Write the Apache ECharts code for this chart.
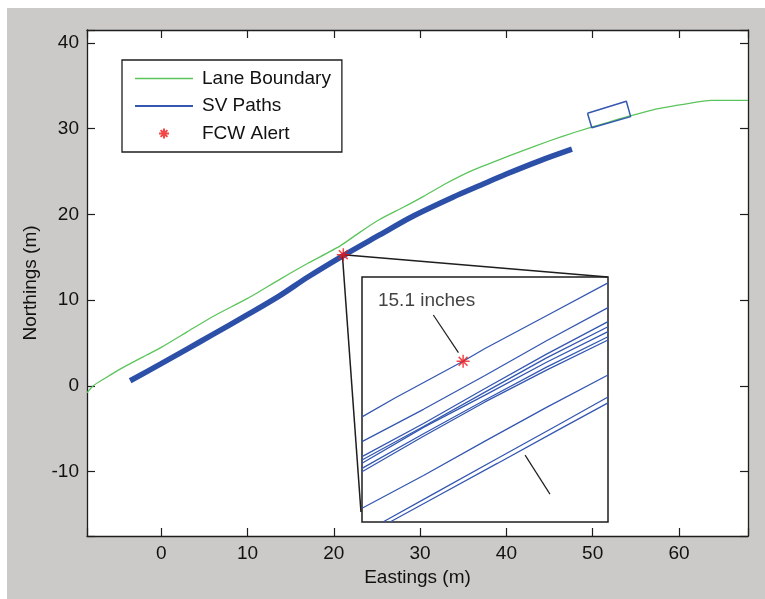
<!DOCTYPE html>
<html>
<head>
<meta charset="utf-8">
<title>FCW alert</title>
<script src="https://cdn.jsdelivr.net/npm/echarts@6.0.0/dist/echarts.min.js"></script>
<style>
html, body { margin: 0; padding: 0; background: #fff; }
#main { position: absolute; left: 7px; top: 8px; width: 758px; height: 591px; }
</style>
</head>
<body>
<div id="main"></div>
<script>
// main axes data (metres)
var laneBoundary = [[-8.6,-0.8],[-7.9,0],[-6.5,0.9],[-4.5,2.1],[-1.7,3.6],[0,4.5],[3,6.3],[6,8.1],[10,10.2],
    [13.7,12.4],[17,14.3],[20.7,16.3],[23,17.9],[25.3,19.4],[28,20.8],[30.4,22.1],[33,23.6],[36,25.1],
    [40,26.7],[43.4,28.0],[46.5,29.1],[49.6,30.1],[52,30.8],[54,31.4],[57,32.2],[59.7,32.7],[62,33.1],
    [63.7,33.3],[68,33.3]];
var svPaths = [[-3.6,0.6],[0,2.6],[3,4.3],[6,6.0],[10,8.3],[13.7,10.5],[17,12.7],[21.1,15.2],[25.3,17.6],
    [29,19.7],[33.8,22.0],[37,23.4],[40,24.7],[44,26.3],[47.6,27.6]];
var vehicleBox = [[49.4,31.8],[53.9,33.2],[54.4,31.4],[49.9,30.1],[49.4,31.8]];
var fcwAlert = [[21.1,15.3]];
var zoomLineTop = [[21.1,15.3],[51.75,12.7]];
var zoomLineLeft = [[21.0,15.2],[23.15,-14.7]];

// inset data (inset units 0..10)
var insetPaths = [
    [[0,4.29],[1.34,5.06],[4.11,6.56],[5.0,7.08],[7.5,8.42],[10,9.76]],
    [[0,3.28],[2.5,4.60],[5,5.98],[7.5,7.40],[10,8.75]],
    [[0,2.67],[2.5,4.02],[5,5.45],[7.5,6.85],[10,8.18]],
    [[0,2.53],[2.5,3.90],[5,5.30],[7.5,6.70],[10,7.97]],
    [[0,2.40],[2.5,3.86],[5,5.18],[7.5,6.52],[10,7.77]],
    [[0,2.19],[2.5,3.60],[5,4.98],[7.5,6.32],[10,7.56]],
    [[0,2.05],[2.5,3.50],[5,4.90],[7.5,6.20],[10,7.43]],
    [[0,0.56],[2.5,1.90],[5,3.30],[7.5,4.68],[10,6.0]],
    [[0.85,0],[3,1.20],[5.5,2.59],[8,3.98],[10,5.10]],
    [[1.14,0],[3,1.02],[5.5,2.39],[8,3.77],[10,4.86]]
];
var insetAlert = [[4.11,6.56]];
var insetNote = [[0.65,9.02]];
var noteLineTop = [[2.9,8.45],[3.92,6.91]];
var noteLineBottom = [[6.63,2.73],[7.64,1.14]];

var font = 'Liberation Sans, Arial, sans-serif';
var axisColor = '#1e1e1e';
var blue = '#3457b0';
var green = '#5cc45c';
var star = 'path://M5 0 L5 10 M0 5 L10 5 M1.6 1.6 L8.4 8.4 M1.6 8.4 L8.4 1.6';

function tickLabel(v) {
    return v % 10 === 0 ? v : '';
}

function mainAxis(pos, withLabels, extra) {
    var a = {
        gridIndex: 0,
        type: 'value',
        position: pos,
        axisLine: { show: true, onZero: false, lineStyle: { color: axisColor, width: 1.3 } },
        axisTick: { show: true, inside: true, length: 8, lineStyle: { color: axisColor, width: 1.2 } },
        axisLabel: { show: withLabels, formatter: tickLabel, color: '#111', fontSize: 19, fontFamily: font, margin: 8 },
        splitLine: { show: false }
    };
    for (var k in extra) a[k] = extra[k];
    return a;
}

var myChart = echarts.init(document.getElementById('main'));

var series = [
    {
        name: 'Lane Boundary', type: 'line', data: laneBoundary, symbol: 'none', smooth: 0.2,
        lineStyle: { color: green, width: 1.3 }, itemStyle: { color: green }
    },
    {
        name: 'SV Paths', type: 'line', data: svPaths, symbol: 'none', smooth: 0.3,
        lineStyle: { color: '#2c4fa8', width: 5.5 }, itemStyle: { color: blue }
    },
    {
        name: 'FCW Alert', type: 'scatter', data: fcwAlert, symbol: star, symbolSize: 13,
        itemStyle: { color: 'rgba(0,0,0,0)', borderColor: '#f01818', borderWidth: 1.5 }, z: 5
    },
    {
        type: 'line', data: vehicleBox, symbol: 'none',
        lineStyle: { color: blue, width: 1.5 }
    },
    {
        type: 'line', data: zoomLineTop, symbol: 'none',
        lineStyle: { color: '#1e1e1e', width: 1.5 }
    },
    {
        type: 'line', data: zoomLineLeft, symbol: 'none',
        lineStyle: { color: '#1e1e1e', width: 1.5 }
    }
];

for (var i = 0; i < insetPaths.length; i++) {
    series.push({
        type: 'line', xAxisIndex: 2, yAxisIndex: 2, data: insetPaths[i], symbol: 'none',
        lineStyle: { color: blue, width: 1.3 }
    });
}
series.push({
    type: 'line', xAxisIndex: 2, yAxisIndex: 2, data: noteLineTop, symbol: 'none',
    lineStyle: { color: '#1e1e1e', width: 1.2 }
});
series.push({
    type: 'line', xAxisIndex: 2, yAxisIndex: 2, data: noteLineBottom, symbol: 'none',
    lineStyle: { color: '#1e1e1e', width: 1.2 }
});
series.push({
    type: 'scatter', xAxisIndex: 2, yAxisIndex: 2, data: insetAlert, symbol: star, symbolSize: 13,
    itemStyle: { color: 'rgba(0,0,0,0)', borderColor: '#f01818', borderWidth: 1.5 }, z: 5
});
series.push({
    type: 'scatter', xAxisIndex: 2, yAxisIndex: 2, data: insetNote, symbolSize: 0, silent: true,
    label: {
        show: true, position: 'right', distance: 0, formatter: '15.1 inches',
        color: '#111', fontSize: 19, fontFamily: font
    }
});

myChart.setOption({
    backgroundColor: '#cbcac8',
    animation: false,
    legend: {
        orient: 'vertical',
        left: 115,
        top: 52,
        data: [
            { name: 'Lane Boundary', icon: 'path://M0 0 L100 0 L100 2.6 L0 2.6 Z', itemStyle: { color: green } },
            { name: 'SV Paths', icon: 'path://M0 0 L100 0 L100 3.2 L0 3.2 Z', itemStyle: { color: blue } },
            { name: 'FCW Alert' }
        ],
        itemWidth: 58,
        itemHeight: 10,
        itemGap: 7.5,
        padding: [8.5, 11, 8.5, 13],
        backgroundColor: '#fff',
        borderColor: '#1e1e1e',
        borderWidth: 1.3,
        borderRadius: 0,
        textStyle: { fontSize: 19, fontFamily: font, color: '#111', lineHeight: 20, padding: [0, 0, 0, 4] }
    },
    grid: [
        { left: 80, top: 22, right: 17, bottom: 63, show: true, backgroundColor: '#fff', borderWidth: 0 },
        { left: 355, top: 269, width: 246, height: 245, show: true, backgroundColor: '#fff', borderColor: '#1e1e1e', borderWidth: 1.5 }
    ],
    xAxis: [
        mainAxis('bottom', true, {
            min: -8.6, max: 68, splitNumber: 8,
            name: 'Eastings (m)', nameLocation: 'middle', nameGap: 32,
            nameTextStyle: { fontSize: 19, fontFamily: font, color: '#111' }
        }),
        mainAxis('top', false, { min: -8.6, max: 68, splitNumber: 8 }),
        { gridIndex: 1, type: 'value', min: 0, max: 10, show: false }
    ],
    yAxis: [
        mainAxis('left', true, {
            min: -17.5, max: 41.5, splitNumber: 6,
            name: 'Northings (m)', nameLocation: 'middle', nameGap: 44,
            nameTextStyle: { fontSize: 19, fontFamily: font, color: '#111' }
        }),
        mainAxis('right', false, { min: -17.5, max: 41.5, splitNumber: 6 }),
        { gridIndex: 1, type: 'value', min: 0, max: 10, show: false }
    ],
    series: series
});
</script>
</body>
</html>
